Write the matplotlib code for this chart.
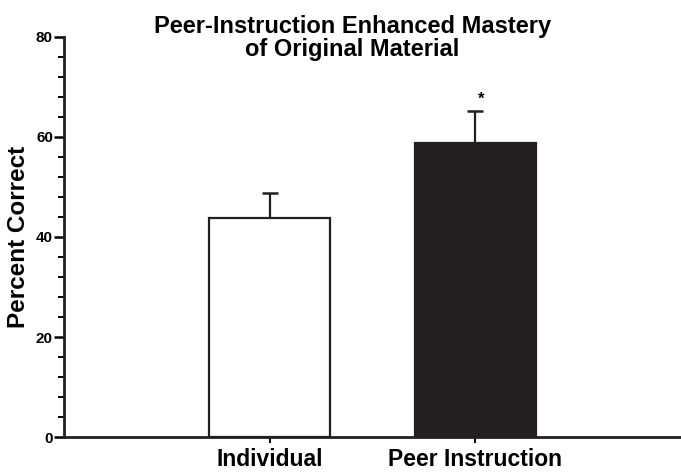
import matplotlib
matplotlib.use("Agg")
import matplotlib.pyplot as plt
from matplotlib.ticker import MultipleLocator

plt.rcParams['font.family'] = ['Liberation Sans', 'DejaVu Sans']

groups = ["Individual", "Peer Instruction"]
means = [43.8, 58.8]
sem = [5.0, 6.3]
colors = ["white", "#231f20"]
signif = ["", "*"]

fig = plt.figure(figsize=(6.81, 4.72), dpi=100)
ax = fig.add_axes([0.094, 0.074, 0.906, 0.848])

x = range(len(groups))
ax.bar(x, means, width=0.59, color=colors, edgecolor="#231f20", linewidth=1.6, zorder=2)
ax.errorbar(x, means, yerr=[[0, 0], sem], fmt="none", ecolor="#231f20",
            elinewidth=1.6, capsize=6, capthick=1.8, zorder=1)
for xi, m, e, s in zip(x, means, sem, signif):
    if s:
        ax.text(xi + 0.03, m + e + 1.0, s, ha="center", va="bottom",
                fontsize=12, fontweight="bold")

ax.set_xlim(-1.0, 2.0)
ax.set_ylim(0, 80)
ax.yaxis.set_major_locator(MultipleLocator(20))
ax.yaxis.set_minor_locator(MultipleLocator(4))
ax.set_xticks(list(x))
ax.set_xticklabels(groups, fontsize=16.5, fontweight="bold")
ax.tick_params(axis="y", which="major", length=7, width=1.8, labelsize=11, pad=1)
ax.tick_params(axis="y", which="minor", length=4, width=1.4)
ax.tick_params(axis="x", length=4, width=1.4, pad=4)
for lab in ax.get_yticklabels():
    lab.set_fontweight("bold")

for side in ["top", "right"]:
    ax.spines[side].set_visible(False)
for side in ["left", "bottom"]:
    ax.spines[side].set_linewidth(2.0)
    ax.spines[side].set_color("#231f20")

ax.set_ylabel("Percent Correct", fontsize=17.5, fontweight="bold", labelpad=4)
fig.text(0.517, 0.968, "Peer-Instruction Enhanced Mastery\nof Original Material",
         ha="center", va="top", fontsize=17, fontweight="bold", linespacing=1.0)

fig.savefig("out.png", dpi=100)
